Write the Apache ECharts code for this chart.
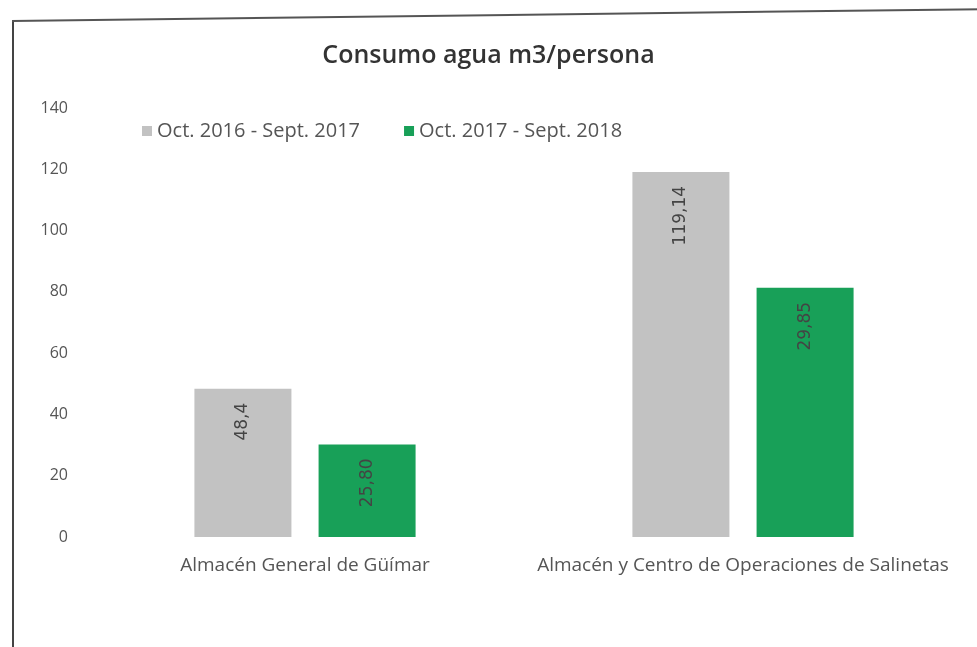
<!DOCTYPE html>
<html>
<head>
<meta charset="utf-8">
<script src="https://cdn.jsdelivr.net/npm/echarts@6/dist/echarts.min.js"></script>
<style>
	html, body { margin: 0; padding: 0; background: #fff; overflow: hidden; }
	#frame-left {
		position: absolute; left: 12px; top: 20px; width: 0; height: 640px;
		border-left: 2px solid #444;
	}
	#frame-top {
		position: absolute; left: 12px; top: 20px; width: 970px; height: 0;
		border-top: 2px solid #555; transform: rotate(-0.7deg); transform-origin: 0 0;
	}
	#chart { position: absolute; left: 0; top: 0; width: 977px; height: 647px; }
</style>
</head>
<body>
<div id="frame-left"></div>
<div id="frame-top"></div>
<div id="chart"></div>
<script type="text/javascript">
	var categories = ['Almacén General de Güímar', 'Almacén y Centro de Operaciones de Salinetas'];
	var seriesNames = ['Oct. 2016 - Sept. 2017', 'Oct. 2017 - Sept. 2018'];
	var values2017 = [48.4, 119.14];
	var values2018 = [30.2, 81.3];
	// etiquetas tal como aparecen impresas
	var labels2017 = ['48,4', '119,14'];
	var labels2018 = ['25,80', '29,85'];
	var yTicks = [0, 20, 40, 60, 80, 100, 120, 140];

	var font = '"Open Sans", "Liberation Sans", sans-serif';

	function barLabel(texts){
		return {
			show: true,
			position: 'insideTop',
			rotate: 90,
			align: 'right',
			verticalAlign: 'middle',
			distance: 14,
			color: '#444',
			fontSize: 17,
			fontFamily: '"DejaVu Sans", sans-serif',
			formatter: function(p){ return texts[p.dataIndex]; }
		};
	}

	var option = {
		animation: false,
		title: {
			text: 'Consumo agua m3/persona',
			left: 'center',
			top: 38,
			textStyle: { fontSize: 25, fontWeight: 600, color: '#333', fontFamily: font }
		},
		legend: {
			data: seriesNames,
			left: 137,
			top: 116,
			itemWidth: 10,
			itemHeight: 10,
			itemGap: 44,
			icon: 'rect',
			textStyle: { fontSize: 20, color: '#555', fontFamily: font }
		},
		grid: {
			left: 86,
			right: 15,
			top: 108,
			bottom: 110
		},
		xAxis: {
			type: 'category',
			data: categories,
			axisLine: { show: false },
			axisTick: { show: false },
			axisLabel: { interval: 0, hideOverlap: false, fontSize: 19, color: '#555', fontFamily: font, margin: 19 }
		},
		yAxis: {
			type: 'value',
			min: yTicks[0],
			max: yTicks[yTicks.length - 1],
			interval: 20,
			splitLine: { show: false },
			axisLine: { show: false },
			axisTick: { show: false },
			axisLabel: { fontSize: 16, color: '#555', fontFamily: font, margin: 18 }
		},
		series: [
			{
				name: seriesNames[0],
				type: 'bar',
				data: values2017,
				barWidth: 97,
				barGap: '28%',
				itemStyle: { color: '#c2c2c2' },
				label: barLabel(labels2017)
			},
			{
				name: seriesNames[1],
				type: 'bar',
				data: values2018,
				barWidth: 97,
				itemStyle: { color: '#18a058' },
				label: barLabel(labels2018)
			}
		]
	};

	var myChart = echarts.init(document.getElementById('chart'));
	myChart.setOption(option);
</script>
</body>
</html>
